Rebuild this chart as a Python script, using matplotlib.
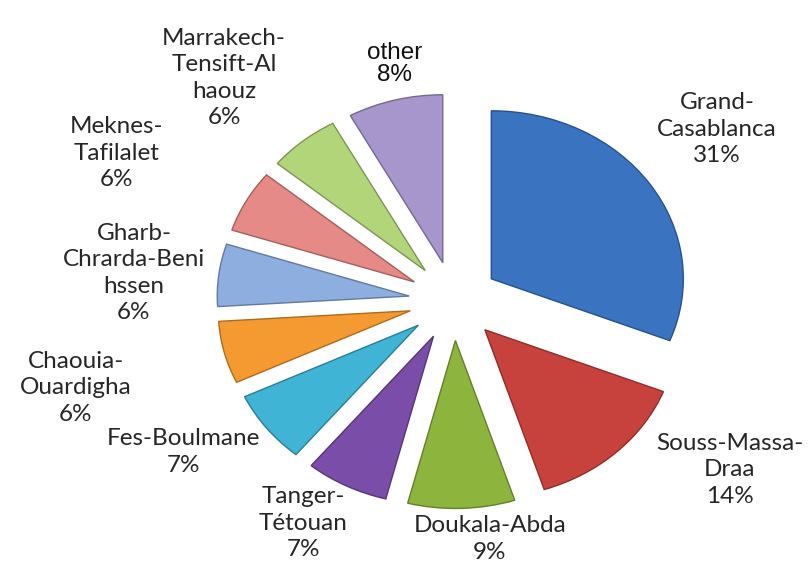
import matplotlib
matplotlib.use("Agg")
import matplotlib.pyplot as plt
import matplotlib.colors as mcolors

# ---- data ----
regions = ["Grand-\nCasablanca", "Souss-Massa-\nDraa", "Doukala-Abda", "Tanger-\nTétouan",
           "Fes-Boulmane", "Chaouia-\nOuardigha", "Gharb-\nChrarda-Beni\nhssen",
           "Meknes-\nTafilalet", "Marrakech-\nTensift-Al\nhaouz", "other"]
shares = [31, 14, 9, 7, 7, 6, 6, 6, 6, 8]

# ---- styles / layout ----
colors = ["#3A74C0", "#C8423D", "#8DB53E", "#7A4EA8", "#3FB4D4",
          "#F59A30", "#8DAEDF", "#E58A86", "#B2D57A", "#A796CC"]
explode = [0.235] * len(shares)
# label centres in figure pixels (x, y from top)
label_pos = [(717, 129), (730, 470), (490, 539), (303, 523), (183, 452),
             (76, 388), (134, 273), (117, 153), (224, 78), (395, 64)]

W, H = 808, 563
fig = plt.figure(figsize=(W / 100, H / 100), dpi=100)
ax = fig.add_axes([0, 0, 1, 1])

cx, cy = 454, 301          # pie centre in pixels (from top)
rx, ry = 192, 168          # pixels per data unit

edge = [mcolors.to_hex([c * 0.7 for c in mcolors.to_rgb(col)]) for col in colors]
wedges, _ = ax.pie(shares, colors=colors, explode=explode, startangle=90,
                   counterclock=False, radius=1.0,
                   wedgeprops=dict(linewidth=1.0))
for w, e in zip(wedges, edge):
    w.set_edgecolor(e)

ax.set_aspect("auto")
ax.set_xlim(-cx / rx, (W - cx) / rx)
ax.set_ylim(-(H - cy) / ry, cy / ry)
ax.axis("off")

for i, (lab, val) in enumerate(zip(regions, shares)):
    x, y = label_pos[i]
    if lab == "other":
        fig.text(x / W, 1 - y / H, f"{lab}\n{val}%", ha="center", va="center",
                 fontsize=17.5, family="Liberation Sans", color="#111111",
                 linespacing=1.0)
    else:
        fig.text(x / W, 1 - y / H, f"{lab}\n{val}%", ha="center", va="center",
                 fontsize=17.5, family="Lato", color="#262626", linespacing=1.3)

fig.savefig("out.png", dpi=100, facecolor="white")
